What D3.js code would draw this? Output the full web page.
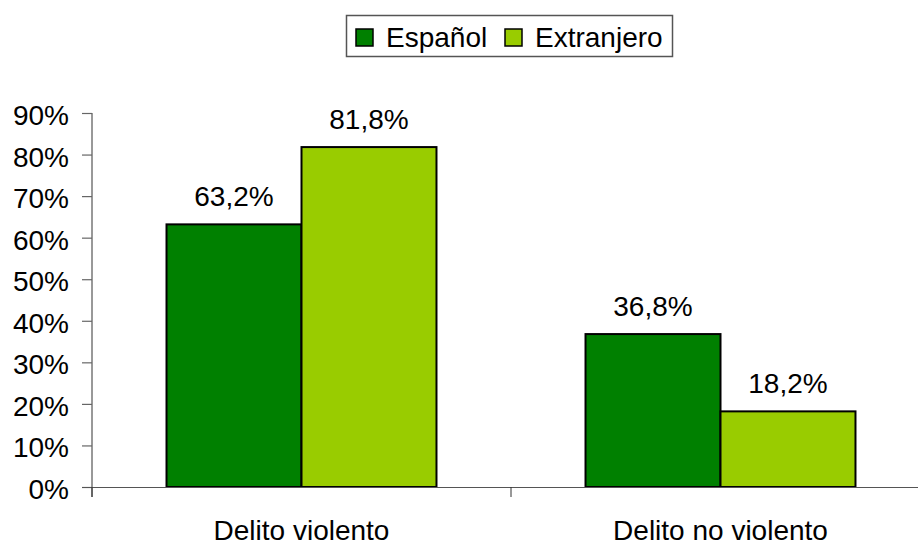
<!DOCTYPE html>
<html>
<head>
<meta charset="utf-8">
<script src="https://cdn.jsdelivr.net/npm/d3@7"></script>
<style>
  body { margin: 0; background: #fff; }
  text { font-family: Arial, "Liberation Sans", sans-serif; fill: #000; }
</style>
</head>
<body>
<div id="chart"></div>
<script>
// data
var categories = ["Delito violento", "Delito no violento"];
var series = ["Español", "Extranjero"];
var espanol = [63.2, 36.8];
var extranjero = [81.8, 18.2];
var yTicks = [0, 10, 20, 30, 40, 50, 60, 70, 80, 90];
var colors = ["#008000", "#99cc00"];

var width = 918, height = 545;
var fontSize = 28;

var svg = d3.select("#chart")
  .append("svg")
    .attr("width", width)
    .attr("height", height);

var x0 = d3.scaleBand()
  .domain(categories)
  .range([92, 930])
  .paddingInner(0)
  .paddingOuter(0);

var x1 = d3.scaleBand()
  .domain(series)
  .range([0, x0.bandwidth()])
  .paddingInner(0)
  .paddingOuter(0.552);

var y = d3.scaleLinear()
  .domain([0, 90])
  .range([487, 113]);

var rows = categories.map(function(c, i) {
  return {cat: c, values: [
    {key: series[0], value: espanol[i]},
    {key: series[1], value: extranjero[i]}
  ]};
});

// y axis
var yAxis = svg.append("g");
yAxis.append("line")
  .attr("x1", 92).attr("x2", 92)
  .attr("y1", y(90)).attr("y2", y(0) + 10)
  .attr("stroke", "#333").attr("stroke-width", 1);
yAxis.selectAll("line.tick")
  .data(yTicks)
  .enter().append("line")
    .attr("class", "tick")
    .attr("x1", 82).attr("x2", 92)
    .attr("y1", function(d) { return y(d) + 0.5; })
    .attr("y2", function(d) { return y(d) + 0.5; })
    .attr("stroke", "#666").attr("stroke-width", 1.2);
yAxis.selectAll("text")
  .data(yTicks)
  .enter().append("text")
    .attr("x", 69)
    .attr("y", function(d) { return y(d); })
    .attr("dy", "0.43em")
    .attr("text-anchor", "end")
    .style("font-size", fontSize + "px")
    .text(function(d) { return d + "%"; });

// bars
var groups = svg.selectAll("g.cat")
  .data(rows)
  .enter().append("g")
    .attr("class", "cat")
    .attr("transform", function(d) { return "translate(" + x0(d.cat) + ",0)"; });

groups.selectAll("rect")
  .data(function(d) { return d.values; })
  .enter().append("rect")
    .attr("x", function(d) { return x1(d.key); })
    .attr("y", function(d) { return y(d.value); })
    .attr("width", x1.bandwidth())
    .attr("height", function(d) { return y(0) - y(d.value); })
    .attr("fill", function(d, i) { return colors[i]; })
    .attr("stroke", "#000")
    .attr("stroke-width", 2);

groups.selectAll("text")
  .data(function(d) { return d.values; })
  .enter().append("text")
    .attr("x", function(d) { return x1(d.key) + x1.bandwidth() / 2; })
    .attr("y", function(d) { return y(d.value) - 18; })
    .attr("text-anchor", "middle")
    .style("font-size", fontSize + "px")
    .text(function(d) { return d.value.toFixed(1).replace(".", ",") + "%"; });

// x axis
var xAxis = svg.append("g");
xAxis.append("line")
  .attr("x1", 82).attr("x2", 930)
  .attr("y1", y(0) + 0.5).attr("y2", y(0) + 0.5)
  .attr("stroke", "#555").attr("stroke-width", 1.2);
var bounds = categories.map(function(c) { return x0(c); }).concat([x0.range()[1]]);
xAxis.selectAll("line.tick")
  .data(bounds)
  .enter().append("line")
    .attr("class", "tick")
    .attr("x1", function(d) { return d; })
    .attr("x2", function(d) { return d; })
    .attr("y1", y(0)).attr("y2", y(0) + 10)
    .attr("stroke", "#333").attr("stroke-width", 1);
xAxis.selectAll("text")
  .data(categories)
  .enter().append("text")
    .attr("x", function(d) { return x0(d) + x0.bandwidth() / 2; })
    .attr("y", 540)
    .attr("text-anchor", "middle")
    .style("font-size", fontSize + "px")
    .text(function(d) { return d; });

// legend
var legend = svg.append("g");
legend.append("rect")
  .attr("x", 346.5).attr("y", 15.5)
  .attr("width", 326).attr("height", 41)
  .attr("fill", "#fff")
  .attr("stroke", "#555").attr("stroke-width", 1.5);
var legendX = [356, 505];
series.forEach(function(s, i) {
  legend.append("rect")
    .attr("x", legendX[i]).attr("y", 29)
    .attr("width", 17).attr("height", 17)
    .attr("fill", colors[i])
    .attr("stroke", "#000").attr("stroke-width", 1.5);
  legend.append("text")
    .attr("x", legendX[i] + 30)
    .attr("y", 47)
    .style("font-size", fontSize + "px")
    .text(s);
});
</script>
</body>
</html>
